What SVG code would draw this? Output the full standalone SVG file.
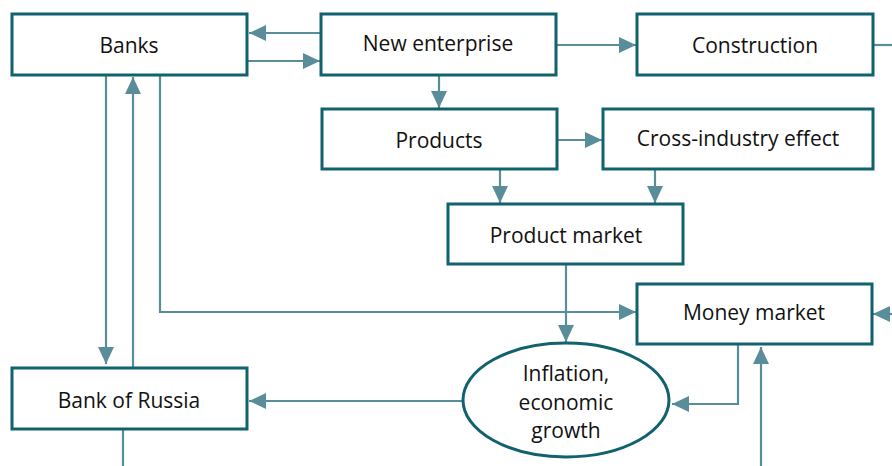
<svg xmlns="http://www.w3.org/2000/svg" width="892" height="466" viewBox="0 0 892 466">
  <style>
    .box { fill: #ffffff; stroke: #10626e; stroke-width: 3; }
    .lbl { font-family: "Open Sans", "Noto Sans", sans-serif; font-size: 21px; fill: #111111; text-anchor: middle; dominant-baseline: central; }
    .wire { fill: none; stroke: #5a8d9a; stroke-width: 2.2; }
    .arr { marker-end: url(#head); }
  </style>
  <defs>
    <marker id="head" markerUnits="userSpaceOnUse" markerWidth="18" markerHeight="16" viewBox="0 0 18 16" refX="17" refY="8" orient="auto">
      <path d="M0,0 L17,8 L0,16 Z" fill="#5a8d9a"/>
    </marker>
  </defs>

  <!-- connectors -->
  <g id="connectors">
    <path class="wire arr" d="M321,33 H249"/>
    <path class="wire arr" d="M247,61 H320"/>
    <path class="wire arr" d="M556,45 H636"/>
    <path class="wire" d="M873,45 H892"/>
    <path class="wire arr" d="M439,75 V108"/>
    <path class="wire arr" d="M557,140 H602"/>
    <path class="wire arr" d="M500,169 V203"/>
    <path class="wire arr" d="M655,169 V203"/>
    <path class="wire arr" d="M566,264 V342"/>
    <path class="wire arr" d="M160,75 V312 H636"/>
    <path class="wire arr" d="M892,314 H873"/>
    <path class="wire arr" d="M738,344 V404 H672"/>
    <path class="wire arr" d="M761,466 V347"/>
    <path class="wire arr" d="M463,401 H249"/>
    <path class="wire arr" d="M106,75 V364"/>
    <path class="wire arr" d="M133,368 V77"/>
    <path class="wire" d="M123,429 V466"/>
  </g>

  <g id="banks">
    <rect class="box" x="12" y="14" width="235" height="61"/>
    <text class="lbl" x="129" y="45">Banks</text>
  </g>
  <g id="new-enterprise">
    <rect class="box" x="321" y="14" width="235" height="61"/>
    <text class="lbl" x="438" y="43">New enterprise</text>
  </g>
  <g id="construction">
    <rect class="box" x="637" y="14" width="236" height="61"/>
    <text class="lbl" x="755" y="45">Construction</text>
  </g>
  <g id="products">
    <rect class="box" x="322" y="109" width="235" height="60"/>
    <text class="lbl" x="439" y="140">Products</text>
  </g>
  <g id="cross-industry">
    <rect class="box" x="603" y="109" width="270" height="60"/>
    <text class="lbl" x="738" y="138">Cross-industry effect</text>
  </g>
  <g id="product-market">
    <rect class="box" x="448" y="204" width="235" height="60"/>
    <text class="lbl" x="566" y="235">Product market</text>
  </g>
  <g id="money-market">
    <rect class="box" x="637" y="284" width="235" height="60"/>
    <text class="lbl" x="754" y="312">Money market</text>
  </g>
  <g id="inflation">
    <ellipse class="box" cx="566" cy="400" rx="103" ry="57"/>
    <text class="lbl" x="566" y="373">Inflation,</text>
    <text class="lbl" x="566" y="402">economic</text>
    <text class="lbl" x="566" y="430">growth</text>
  </g>
  <g id="bank-of-russia">
    <rect class="box" x="12" y="368" width="235" height="61"/>
    <text class="lbl" x="129" y="400">Bank of Russia</text>
  </g>
</svg>
